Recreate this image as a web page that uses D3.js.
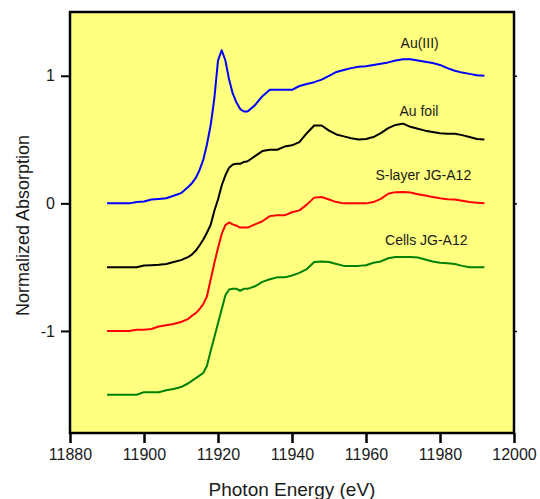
<!DOCTYPE html>
<html>
<head>
<meta charset="utf-8">
<script src="https://cdn.jsdelivr.net/npm/d3@7"></script>
<style>
	body { margin: 0; background: #fff; }
	text { font-family: "Liberation Sans", Arial, sans-serif; fill: #1a1a1a; }
	.axis path, .axis line { stroke: #000; }
	.line { fill: none; stroke-width: 2px; stroke-linejoin: round; }
</style>
</head>
<body>
<div id="chart"></div>
<script>
(function () {
	"use strict";

	// Photon energy grid (eV) shared by all spectra
	var energy = [11890, 11893, 11896, 11898, 11900, 11902, 11904, 11906, 11908, 11910,
		11912, 11913, 11914, 11915, 11916, 11917, 11918, 11919, 11920, 11921,
		11922, 11923, 11924, 11925, 11926, 11927, 11928, 11930, 11932, 11934,
		11936, 11938, 11940, 11942, 11944, 11946, 11948, 11950, 11952, 11954,
		11956, 11958, 11960, 11962, 11964, 11966, 11968, 11970, 11972, 11974,
		11976, 11978, 11980, 11982, 11984, 11986, 11988, 11990, 11992];

	var auIII = [0, 0, 0, 0.01, 0.015, 0.03, 0.035, 0.04, 0.06, 0.08,
		0.13, 0.16, 0.2, 0.26, 0.34, 0.46, 0.61, 0.82, 1.12, 1.2,
		1.12, 0.97, 0.86, 0.79, 0.74, 0.72, 0.72, 0.77, 0.84, 0.89,
		0.89, 0.89, 0.89, 0.92, 0.935, 0.95, 0.97, 1.0, 1.03, 1.045,
		1.06, 1.07, 1.075, 1.085, 1.095, 1.105, 1.12, 1.13, 1.13, 1.12,
		1.11, 1.1, 1.085, 1.06, 1.04, 1.025, 1.015, 1.005, 1.0];

	var auFoil = [-0.5, -0.5, -0.5, -0.5, -0.487, -0.485, -0.482, -0.475, -0.46, -0.445,
		-0.42, -0.4, -0.37, -0.33, -0.285, -0.23, -0.17, -0.06, 0.03, 0.14,
		0.22, 0.28, 0.305, 0.31, 0.31, 0.325, 0.33, 0.37, 0.41, 0.42,
		0.42, 0.445, 0.455, 0.48, 0.55, 0.61, 0.61, 0.57, 0.54, 0.525,
		0.51, 0.5, 0.505, 0.52, 0.55, 0.59, 0.615, 0.625, 0.6, 0.585,
		0.57, 0.56, 0.55, 0.545, 0.545, 0.535, 0.52, 0.505, 0.5];

	var sLayer = [-1, -1, -1, -0.99, -0.99, -0.985, -0.965, -0.955, -0.945, -0.93,
		-0.905, -0.88, -0.86, -0.83, -0.79, -0.73, -0.6, -0.47, -0.35, -0.24,
		-0.17, -0.15, -0.165, -0.175, -0.19, -0.19, -0.19, -0.165, -0.14, -0.1,
		-0.094, -0.094, -0.07, -0.055, -0.01, 0.045, 0.05, 0.03, 0.01, 0,
		0, 0, 0, 0.01, 0.035, 0.075, 0.088, 0.09, 0.085, 0.072,
		0.062, 0.05, 0.04, 0.032, 0.03, 0.02, 0.01, 0.005, 0];

	var cells = [-1.5, -1.5, -1.5, -1.5, -1.48, -1.48, -1.48, -1.465, -1.455, -1.44,
		-1.41, -1.39, -1.37, -1.35, -1.33, -1.275, -1.16, -1.05, -0.94, -0.83,
		-0.72, -0.675, -0.67, -0.67, -0.685, -0.67, -0.67, -0.65, -0.615, -0.595,
		-0.58, -0.58, -0.565, -0.545, -0.515, -0.46, -0.455, -0.46, -0.475, -0.49,
		-0.49, -0.49, -0.485, -0.465, -0.455, -0.43, -0.42, -0.42, -0.42, -0.425,
		-0.44, -0.455, -0.465, -0.47, -0.475, -0.49, -0.5, -0.5, -0.5];

	var seriesNames = ["Au(III)", "Au foil", "S-layer JG-A12", "Cells JG-A12"];
	var seriesColors = ["#0000ff", "#000000", "#ff0000", "#008000"];
	// label anchor points in data units (energy, value)
	var labelEnergy = [11974.5, 11974.3, 11975.5, 11976.3];
	var labelValue = [1.255, 0.725, 0.225, -0.285];

	var xTicks = [11880, 11900, 11920, 11940, 11960, 11980, 12000];
	var yTicks = [-1, 0, 1];

	var series = [auIII, auFoil, sLayer, cells];

	var canvasWidth = 540,
		canvasHeight = 499,
		margin = {top: 12, right: 26, bottom: 66, left: 70},
		width = canvasWidth - margin.left - margin.right,
		height = canvasHeight - margin.top - margin.bottom;

	var svg = d3.select("#chart").append("svg")
		.attr("width", canvasWidth)
		.attr("height", canvasHeight);

	var graph = svg.append("g")
		.attr("transform", "translate(" + margin.left + "," + margin.top + ")");

	var x = d3.scaleLinear().domain([11880, 12000]).range([0, width]);
	var y = d3.scaleLinear().domain([-1.8, 1.5]).range([height, 0]);

	graph.append("rect")
		.attr("width", width)
		.attr("height", height)
		.attr("fill", "#ffff80");

	var line = d3.line()
		.x(function(d, i) { return x(energy[i]); })
		.y(function(d) { return y(d); });

	for (var i = 0; i < series.length; i++) {
		graph.append("path")
			.datum(series[i])
			.attr("class", "line")
			.style("stroke", seriesColors[i])
			.attr("d", line);

		graph.append("text")
			.attr("x", x(labelEnergy[i]))
			.attr("y", y(labelValue[i]))
			.attr("text-anchor", "middle")
			.attr("dy", "0.35em")
			.style("font-size", "14px")
			.text(seriesNames[i]);
	}

	// plain hyphen for negatives, like the original
	var plain = function(d) { return String(d); };

	// axes
	var xAxis = graph.append("g")
		.attr("class", "axis")
		.attr("transform", "translate(0," + height + ")")
		.call(d3.axisBottom(x).tickValues(xTicks).tickFormat(plain).tickSizeOuter(0).tickSize(10).tickPadding(6));
	xAxis.select(".domain").remove();
	xAxis.selectAll("line").attr("stroke-width", 2.5);
	xAxis.selectAll("text").style("font-size", "16px").attr("fill", "#1a1a1a");

	var yAxis = graph.append("g")
		.attr("class", "axis")
		.call(d3.axisLeft(y).tickValues(yTicks).tickFormat(plain).tickSizeOuter(0).tickSize(9).tickPadding(6));
	yAxis.select(".domain").remove();
	yAxis.selectAll("line").attr("stroke-width", 2);
	yAxis.selectAll("text").style("font-size", "16px").attr("fill", "#1a1a1a");

	var yAxisRight = graph.append("g")
		.attr("class", "axis")
		.attr("transform", "translate(" + width + ",0)")
		.call(d3.axisRight(y).tickValues(yTicks).tickFormat("").tickSizeOuter(0).tickSize(3));
	yAxisRight.select(".domain").remove();
	yAxisRight.selectAll("line").attr("stroke-width", 1.5);

	// frame
	graph.append("rect")
		.attr("width", width)
		.attr("height", height)
		.attr("fill", "none")
		.attr("stroke", "#000")
		.attr("stroke-width", 2.5);

	svg.append("text")
		.attr("x", margin.left + width / 2)
		.attr("y", 496)
		.attr("text-anchor", "middle")
		.style("font-size", "19px")
		.text("Photon Energy (eV)");

	svg.append("text")
		.attr("transform", "translate(29," + (margin.top + height / 2 + 3) + ") rotate(-90)")
		.attr("text-anchor", "middle")
		.style("font-size", "18px")
		.text("Normalized Absorption");
})();
</script>
</body>
</html>
